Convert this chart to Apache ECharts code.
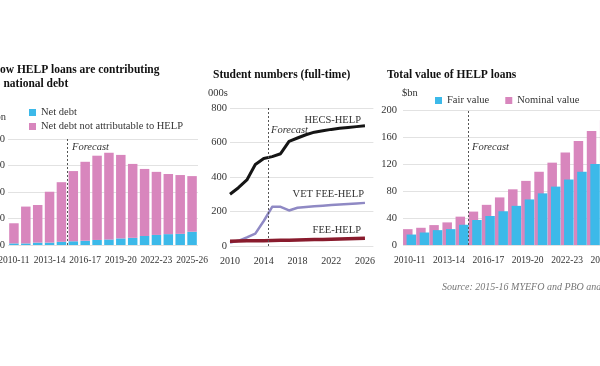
<!DOCTYPE html>
<html>
<head>
<meta charset="utf-8">
<script src="https://cdn.jsdelivr.net/npm/echarts@6/dist/echarts.min.js"></script>
<style>
html,body{margin:0;padding:0;background:#fff;}
#chart{width:600px;height:366px;}
</style>
</head>
<body>
<div id="chart"></div>
<script>
// ---- Data ----
const debtCategories = ['2010-11','2011-12','2012-13','2013-14','2014-15','2015-16','2016-17','2017-18','2018-19','2019-20','2020-21','2021-22','2022-23','2023-24','2024-25','2025-26'];
const netDebtTotal = [82,145,151,201,237,279,314,337,348,340,306,287,276,268,264,260];
const netDebtHelp = [6,6,9,9,12,14,16,19,21,25,27,34,38,41,42,50];

const studentYears = [2010,2011,2012,2013,2014,2015,2016,2017,2018,2019,2020,2021,2022,2023,2024,2025,2026];
const hecsHelp = [300,338,383,472,507,518,535,607,626,645,660,668,676,682,687,692,697];
const vetFeeHelp = [20,30,50,72,145,227,227,206,222,226,230,234,238,241,244,247,250];
const feeHelp = [28,29,30,31,31,32,33,34,35,36,37,38,39,40,42,44,45];

const loanCategories = ['2010-11','2011-12','2012-13','2013-14','2014-15','2015-16','2016-17','2017-18','2018-19','2019-20','2020-21','2021-22','2022-23','2023-24','2024-25','2025-26'];
const nominalValue = [23.5,25.5,29.5,33.5,42,49.5,59.5,70.5,82.5,95,108.5,122,137,154,169,185];
const fairValue = [15.5,18.5,22,23.5,30,37,43,50,58,67.5,76.5,86.5,97,108.5,120,131];

const debtTicks = [0,100,200,300,400];
const studentTicks = [0,200,400,600,800];
const loanTicks = [0,40,80,120,160,200];

// ---- Styles ----
const FONT = '"Liberation Serif", "Times New Roman", serif';
const BLUE = '#3cb9e9';
const PINK = '#d886bd';
const GRID_COLOR = '#e2e2e2';
const TXT = '#333';

const netDebtOther = netDebtTotal.map((t, i) => t - netDebtHelp[i]);

function yAxisCfg(gridIndex, ticks, margin) {
  return {
    type: 'value', gridIndex,
    min: ticks[0], max: ticks[ticks.length - 1], interval: ticks[1] - ticks[0],
    axisLine: {show: false}, axisTick: {show: false},
    axisLabel: {color: TXT, fontFamily: FONT, fontSize: 10.5, margin: margin},
    splitLine: {lineStyle: {color: GRID_COLOR, width: 1}}
  };
}
function catAxisCfg(gridIndex, cats) {
  return {
    type: 'category', gridIndex, data: cats,
    axisLine: {show: false}, axisTick: {show: false},
    axisLabel: {interval: 2, hideOverlap: false, color: TXT, fontFamily: FONT, fontSize: 9.5, margin: 10}
  };
}
const forecastLine = {
  silent: true, symbol: ['none', 'none'],
  label: {show: false},
  lineStyle: {type: [2, 2], color: '#555', width: 1}
};
function txt(text, x, y, align, extra) {
  return {type: 'text', x: x, y: y, silent: true,
    style: Object.assign({text: text, font: '10.5px ' + FONT, fill: TXT, align: align, verticalAlign: 'middle'}, extra || {})};
}

const option = {
  animation: false,
  backgroundColor: '#fff',
  textStyle: {fontFamily: FONT},
  title: [
    {text: 'Student numbers (full-time)', left: 208, top: 64,
     textStyle: {fontFamily: FONT, fontWeight: 'bold', fontSize: 11.5, color: '#111'}},
    {text: 'Total value of HELP loans', left: 382, top: 64,
     textStyle: {fontFamily: FONT, fontWeight: 'bold', fontSize: 11.5, color: '#111'}}
  ],
  legend: [
    {orient: 'vertical', left: 24, top: 102, itemWidth: 7, itemHeight: 7, itemGap: 3,
     icon: 'rect', selectedMode: false,
     data: ['Net debt', 'Net debt not attributable to HELP'],
     textStyle: {fontFamily: FONT, fontSize: 10.5, color: TXT}},
    {orient: 'horizontal', left: 430, top: 90, itemWidth: 7, itemHeight: 7, itemGap: 16,
     icon: 'rect', selectedMode: false,
     data: ['Fair value', 'Nominal value'],
     textStyle: {fontFamily: FONT, fontSize: 10.5, color: TXT}}
  ],
  grid: [
    {left: 8, top: 139, width: 190, height: 106, outerBoundsMode: 'none', containLabel: false},
    {left: 230, top: 108, width: 143.4, height: 138, outerBoundsMode: 'none', containLabel: false},
    {left: 403, top: 110, width: 210, height: 135, outerBoundsMode: 'none', containLabel: false}
  ],
  xAxis: [
    catAxisCfg(0, debtCategories),
    {type: 'value', gridIndex: 1, min: 2010, max: 2027, interval: 4,
     axisLine: {show: false}, axisTick: {show: false}, splitLine: {show: false},
     axisLabel: {color: TXT, fontFamily: FONT, fontSize: 10, margin: 10, showMaxLabel: false,
                 formatter: v => String(v)}},
    catAxisCfg(2, loanCategories),
    {type: 'value', gridIndex: 0, min: 0, max: debtCategories.length, show: false},
    {type: 'value', gridIndex: 2, min: 0, max: loanCategories.length, show: false}
  ],
  yAxis: [
    yAxisCfg(0, debtTicks, 3),
    yAxisCfg(1, studentTicks, 3),
    yAxisCfg(2, loanTicks, 6)
  ],
  series: [
    {name: 'Net debt', type: 'bar', stack: 'debt', xAxisIndex: 0, yAxisIndex: 0,
     data: netDebtHelp, barWidth: 9.5, itemStyle: {color: BLUE}},
    {name: 'Net debt not attributable to HELP', type: 'bar', stack: 'debt', xAxisIndex: 0, yAxisIndex: 0,
     data: netDebtOther, barWidth: 9.5, itemStyle: {color: PINK}},
    {type: 'line', xAxisIndex: 3, yAxisIndex: 0, data: [], silent: true,
     markLine: Object.assign({data: [{xAxis: 5}]}, forecastLine)},

    {name: 'HECS-HELP', type: 'line', xAxisIndex: 1, yAxisIndex: 1, symbol: 'none',
     data: studentYears.map((y, i) => [y, hecsHelp[i]]),
     lineStyle: {color: '#151515', width: 3, join: 'round'}, itemStyle: {color: '#151515'},
     markLine: Object.assign({data: [{xAxis: 2014.5}]}, forecastLine)},
    {name: 'VET FEE-HELP', type: 'line', xAxisIndex: 1, yAxisIndex: 1, symbol: 'none',
     data: studentYears.map((y, i) => [y, vetFeeHelp[i]]),
     lineStyle: {color: '#8f89c4', width: 2.5, join: 'round'}, itemStyle: {color: '#8f89c4'}},
    {name: 'FEE-HELP', type: 'line', xAxisIndex: 1, yAxisIndex: 1, symbol: 'none',
     data: studentYears.map((y, i) => [y, feeHelp[i]]),
     lineStyle: {color: '#891b2d', width: 3.5, join: 'round'}, itemStyle: {color: '#891b2d'}},

    {name: 'Nominal value', type: 'bar', xAxisIndex: 2, yAxisIndex: 2,
     data: nominalValue, barWidth: 9.5, barGap: '-63%', itemStyle: {color: PINK}},
    {name: 'Fair value', type: 'bar', xAxisIndex: 2, yAxisIndex: 2,
     data: fairValue, barWidth: 9.5, barGap: '-63%', itemStyle: {color: BLUE}},
    {type: 'line', xAxisIndex: 4, yAxisIndex: 2, data: [], silent: true,
     markLine: Object.assign({data: [{xAxis: 5}]}, forecastLine)}
  ],
  graphic: [
    {type: 'text', x: -9, y: 63, silent: true,
     style: {text: 'How HELP loans are contributing\nto national debt', font: 'bold 11.5px ' + FONT,
             fill: '#111', align: 'left', verticalAlign: 'top', lineHeight: 14}},
    txt('$bn', 6, 117, 'right'),
    txt('000s', 208, 93, 'left'),
    txt('$bn', 402, 93, 'left'),
    txt('Forecast', 72, 147, 'left', {font: 'italic 10.5px ' + FONT}),
    txt('Forecast', 271, 130, 'left', {font: 'italic 10.5px ' + FONT}),
    txt('Forecast', 472, 147, 'left', {font: 'italic 10.5px ' + FONT}),
    txt('HECS-HELP', 361, 120, 'right'),
    txt('VET FEE-HELP', 364, 194, 'right'),
    txt('FEE-HELP', 361, 230, 'right'),
    txt('Source: 2015-16 MYEFO and PBO and', 442, 287, 'left', {font: 'italic 10px ' + FONT, fill: '#777'})
  ]
};

const chart = echarts.init(document.getElementById('chart'), null, {renderer: 'canvas'});
chart.setOption(option);
</script>
</body>
</html>
